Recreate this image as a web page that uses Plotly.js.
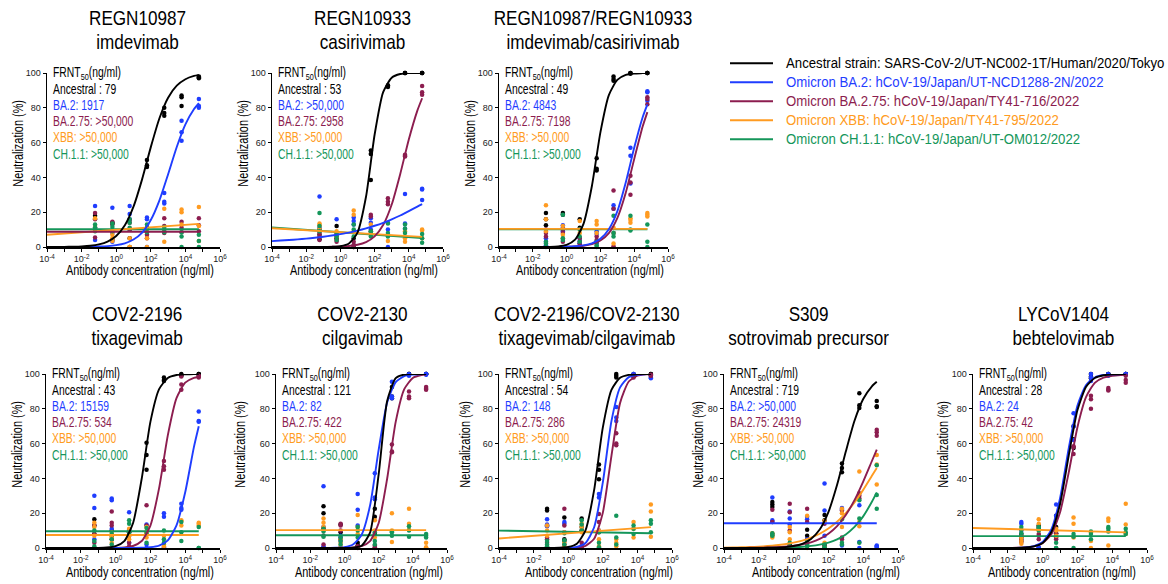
<!DOCTYPE html>
<html><head><meta charset="utf-8">
<script src="https://cdn.plot.ly/plotly-3.0.1.min.js"></script>
<style>html,body{margin:0;padding:0;background:#fff}#chart{width:1168px;height:584px}</style>
</head><body><div id="chart"></div>
<script>
// ---------------- data ----------------
const strains = ['Ancestral','BA.2','BA.2.75','XBB','CH.1.1'];
const legendLabels = [
  'Ancestral strain: SARS-CoV-2/UT-NC002-1T/Human/2020/Tokyo',
  'Omicron BA.2: hCoV-19/Japan/UT-NCD1288-2N/2022',
  'Omicron BA.2.75: hCoV-19/Japan/TY41-716/2022',
  'Omicron XBB: hCoV-19/Japan/TY41-795/2022',
  'Omicron CH.1.1: hCoV-19/Japan/UT-OM012/2022'
];
const frntHeader = 'FRNT<sub>50</sub>(ng/ml)';
const xAxisTitle = 'Antibody concentration (ng/ml)';
const yAxisTitle = 'Neutralization (%)';
const xTickVals = [1e-4,1e-2,1,100,1e4,1e6];
const xTickText = ['10<sup>-4</sup>','10<sup>-2</sup>','10<sup>0</sup>','10<sup>2</sup>','10<sup>4</sup>','10<sup>6</sup>'];
const xMinorTickVals = [1e-3,1e-1,10,1e3,1e5];
const yTickVals = [0,20,40,60,80,100];
// antibody concentrations of the dots (ng/ml), 3 replicates each
const concentrations = [0.06,0.6,6,60,600,6000,60000];
// log10 concentrations where the fitted curves were read
const fitGridLog = [-4,-3.5,-3,-2.5,-2,-1.5,-1,-0.5,0,0.5,1,1.5,2,2.5,3,3.5,4,4.5,4.78];

// Panel 1
const p1Title = ['REGN10987','imdevimab'];
const p1Frnt = ['Ancestral : 79','BA.2: 1917','BA.2.75: >50,000','XBB: >50,000','CH.1.1: >50,000'];
const p1Points = [
  [18,11,10, 14,13.5,4, 10,5,0, 50,47,46, 80,77,75.5, 87,86,81, 98,97.5,97],
  [23.5,11,4, 22.5,8,3, 23.5,19,16, 17,16,0, 31,26,25, 72.5,66,61, 85,81,80],
  [19.5,16,5.5, 14.5,13,9, 15.5,14,10, 11,7,5, 16.5,12,8, 14.5,11,8.5, 16.5,12.5,9],
  [16.5,12,10, 7,5,3.5, 5,0,0, 9,5,0, 22,9,3, 21.5,20,13, 23,12,3.5],
  [13,11,9, 13.5,11.5,9, 16,14,11, 13,11,8.5, 11.5,10,8.5, 8.5,6,0, 7,3.5,0]
];
const p1Fits = [
  [0.02,0.04,0.08,0.16,0.34,0.71,1.5,3.1,6.3,12.5,23.2,39,57.4,74,85.8,92.7,96.4,98.3,98.9],
  [0,0.01,0.015,0.03,0.06,0.13,0.26,0.53,1.07,2.1,4.3,8.3,15.5,26.8,41.8,57.5,70.5,79.3,82.7],
  [8.8,8.8],
  [7,13.3],
  [10.2,10.2]
];
// Panel 2
const p2Title = ['REGN10933','casirivimab'];
const p2Frnt = ['Ancestral : 53','BA.2: >50,000','BA.2.75: 2958','XBB: >50,000','CH.1.1: >50,000'];
const p2Points = [
  [10,7,4.5, 12,8,5, 5,1,0, 55.5,53.5,38.5, 93,92.5,92, 100,100,100, 100,100,100],
  [29,11,9, 16,8,6, 17,15,13, 16.5,14,10, 14,10,0, 30.5,13.5,10.5, 33.5,33,27],
  [8,6,4, 5,4,3, 3,1,0, 18.5,17.5,9, 28,26,24.5, 53,52.5,52, 92.5,89,87.5],
  [13.5,12.5,10.5, 9,8,6, 21,18.5,9, 13,8,7, 7,6.5,3.5, 9,5,3, 10,9.5,5],
  [19.5,12,9, 7,6,4, 13,10,6, 9,8,6, 13.5,8,6, 13,10.5,8, 7.5,5,2.5]
];
const p2Fits = [
  [0,0,0,0,0,0,0,0.1,0.45,2.0,8.3,29,64.5,89,97.3,99.4,99.9,100,100],
  [3.4,3.7,4.0,4.4,4.8,5.3,5.9,6.6,7.4,8.3,9.4,10.7,12.2,13.9,15.9,18.1,20.6,23.2,24.6],
  [0,0,0,0,0,0,0.02,0.11,0.26,0.57,1.27,2.8,6.1,12.6,24.4,42,61.8,78.4,85.5],
  [10.8,5.8],
  [11.2,5.2]
];
// Panel 3
const p3Title = ['REGN10987/REGN10933','imdevimab/casirivimab'];
const p3Frnt = ['Ancestral : 49','BA.2: 4843','BA.2.75: 7198','XBB: >50,000','CH.1.1: >50,000'];
const p3Points = [
  [19.5,16,12.5, 19.5,18.5,10, 16,11,2, 51,45,44, 98,96.5,95.5, 100,100,99.5, 100,100,100],
  [5,3,1, 12.5,11,9, 5,3.5,2, 9,7.5,2, 24,22,8, 57,52.5,36.5, 89.5,89,84],
  [10,8,6, 10,8,3, 5,3,1, 6,4,3, 32.5,22,0.5, 41,37,30, 86,85,82],
  [24,16,9, 12,7,5, 15,10,8, 15,13,8, 11,8,2, 16.5,15.5,14, 19.5,18.5,17.5],
  [3,2,0, 18.5,5,4, 10,6,3, 3,1,0, 18,8,6, 18,10,9.5, 13,3,0]
];
const p3Fits = [
  [0,0,0,0,0.01,0.03,0.1,0.34,1.2,4.2,13.3,35.2,65.9,87.3,96,98.9,99.7,99.9,100],
  [0,0,0,0,0,0.01,0.03,0.08,0.18,0.41,0.93,2.1,4.7,10.2,20.5,37.1,57,74.6,82],
  [0,0,0,0,0,0.01,0.03,0.06,0.14,0.32,0.72,1.64,3.7,8.0,16.6,31.2,50.5,69.2,77.5],
  [10.4,10.4],
  [10.2,10.2]
];
// Panel 4
const p4Title = ['COV2-2196','tixagevimab'];
const p4Frnt = ['Ancestral : 43','BA.2: 15159','BA.2.75: 534','XBB: >50,000','CH.1.1: >50,000'];
const p4Points = [
  [16.5,13,8, 10,7,5, 10.5,9,7, 60.5,53.5,45, 98,96.5,96, 100,99.5,99, 100,100,99.5],
  [30,23,5, 28.5,27.5,11, 20.5,10,3, 13.5,2,0, 20,18,0.5, 25.5,23,22, 78.5,73,72.5],
  [13,8,3, 21,14.5,13, 9,3,1, 24.5,13,9, 50,47,45, 98.5,94,91, 99,98.5,98],
  [14.5,12,7, 9,6,3, 11,7,5, 12,9,6, 7,2,1, 16,15.5,13, 14.5,14,13],
  [10,4,1, 8,5,2, 16,14,8, 11.5,8,3, 10,5,3, 15,9,4, 12,0,0]
];
const p4Fits = [
  [0,0,0,0,0.01,0.02,0.07,0.26,1.04,4,14.2,39.8,72.5,91.3,97.7,99.4,99.8,100,100],
  [0,0,0,0,0,0,0,0,0,0.01,0.04,0.13,0.43,1.4,4.4,13,32,58,70],
  [0,0,0,0,0,0,0.01,0.03,0.09,0.33,1.16,4.0,12.9,34.4,64.7,86.1,95,97.8,98.3],
  [7.5,7.5],
  [9.6,9.6]
];
// Panel 5
const p5Title = ['COV2-2130','cilgavimab'];
const p5Frnt = ['Ancestral : 121','BA.2: 82','BA.2.75: 422','XBB: >50,000','CH.1.1: >50,000'];
const p5Points = [
  [24,20,11, 13.5,9,5, 3,1.5,1, 22.5,18,8, 92.5,87,86, 100,100,100, 100,100,100],
  [35.5,12,1, 7,6,4, 31,22,13, 43,29,28, 95.5,87,86, 100,99.5,99, 100,100,99.5],
  [11.5,7,2, 14,13,10, 1,0.5,0, 1.5,0.5,0, 59.5,55.5,55, 90,87,86, 92.5,91.5,91],
  [17,14.5,12, 5,3,1, 19,12,8, 16,10,6, 20,10,3.5, 22.5,14,10.5, 3,0.5,0],
  [11,9.5,6.5, 6,4,2, 12,10,6, 9,4,2, 9.5,9,7, 12.5,10,6.5, 8,7,6]
];
const p5Fits = [
  [0,0,0,0,0,0,0,0,0.02,0.17,1.27,8.8,42,84.5,97.6,99.7,100,100,100],
  [0,0,0,0,0,0.01,0.03,0.13,0.51,2.0,7.5,24.4,56.2,83.6,95.3,98.8,99.7,99.9,100],
  [0,0,0,0,0,0,0,0.02,0.07,0.26,1.04,4.0,14.2,39.8,72.5,91.3,97.7,99.4,99.7],
  [10.3,10.3],
  [7.3,7.3]
];
// Panel 6
const p6Title = ['COV2-2196/COV2-2130','tixagevimab/cilgavimab'];
const p6Frnt = ['Ancestral : 54','BA.2: 148','BA.2.75: 286','XBB: >50,000','CH.1.1: >50,000'];
const p6Points = [
  [22.5,21.5,13, 17.5,5,4, 17,12,10, 48,45,39.5, 100,99,98, 100,99.5,99, 100,100,99.5],
  [16.5,13.5,12.5, 15,14,9, 1,0.5,0, 31,29,10, 81,75,73, 100,99.5,99, 99,98,97.5],
  [6,5,3, 22.5,13,2, 3,1,0, 19.5,15,9, 66,60,59, 99,98.5,98, 99.5,99,99],
  [13,10,7, 9,3,1, 14,12,9, 10,5,1, 5,3,1, 15,11,6, 25,21,6.5],
  [4,2,1, 8.5,4.5,2, 16,13.5,10, 9,3,0.5, 18.5,6,2, 13,11,8, 16,14,9]
];
const p6Fits = [
  [0,0,0,0,0,0,0.03,0.13,0.56,2.45,10.1,33.4,69.2,90.9,97.8,99.5,99.9,100,100],
  [0,0,0,0,0,0,0,0.03,0.15,0.67,2.9,11.9,37.6,72.9,92.3,98.2,99.6,99.9,100],
  [0,0,0,0,0,0,0,0.01,0.06,0.28,1.25,5.3,20.2,53,83.4,95.7,99,99.8,99.9],
  [5.5,12],
  [10,8.5]
];
// Panel 7
const p7Title = ['S309','sotrovimab precursor'];
const p7Frnt = ['Ancestral : 719','BA.2: >50,000','BA.2.75: 24319','XBB: >50,000','CH.1.1: >50,000'];
const p7Points = [
  [26.5,25,23.5, 2,1,0.5, 10.5,7,5, 19,16,1.5, 48.5,46,43.5, 89,82,80.5, 84.5,81.5,81],
  [29,16,15, 21,17,13.5, 18,16.5,5, 37,21.5,7, 23,22,1.5, 24.5,3.5,0, 1.5,1,0.5],
  [22,15,8, 25.5,20.5,10, 22.5,15,4, 14,2,1, 21.5,6,5, 31.5,30,28.5, 68,66.5,64.5],
  [7,6,8.5, 12,9,5, 18.5,3,0, 15.5,3,0.5, 22.5,20,12, 44,15,12.5, 53.5,48,36.5],
  [8.5,7.5,7, 3,1,0.5, 4,2,1, 2,0.5,0, 16.5,3,2, 27.5,17,3, 47.5,30.5,22.5]
];
const p7Fits = [
  [0,0,0.01,0.02,0.05,0.11,0.24,0.52,1.12,2.4,5.2,10.6,20.6,36.3,55.4,73.1,85.6,92.9,95.5],
  [14.2,14.2],
  [0.03,0.04,0.07,0.11,0.19,0.3,0.49,0.79,1.27,2.05,3.28,5.2,8.2,12.6,19,27.5,38.2,50,56.5],
  [0.2,0.28,0.4,0.56,0.79,1.11,1.56,2.19,3.07,4.27,5.93,8.2,11.2,15.1,20.1,26.2,33.4,41.5,46],
  [0.01,0.02,0.03,0.05,0.07,0.11,0.18,0.29,0.47,0.75,1.21,1.96,3.1,5.0,7.8,12.1,18.2,26.6,32]
];
// Panel 8
const p8Title = ['LYCoV1404','bebtelovimab'];
const p8Frnt = ['Ancestral : 28','BA.2: 24','BA.2.75: 42','XBB: >50,000','CH.1.1: >50,000'];
const p8Points = [
  [8,6,4, 13,12,11, 18.5,12,8.5, 70,62.5,57.5, 100,98.5,97.5, 100,100,99.5, 100,100,100],
  [15,14,10, 0.5,0,0, 25,18.5,10, 77.5,70,62, 100,98,96, 100,99.5,99, 100,100,99.5],
  [7,5,3.5, 8,7,5, 8,6,5, 58.5,58,54, 87.5,85.5,80, 92,91,90.5, 99,96.5,95],
  [6,4,2.5, 16.5,14,10, 11,10,7, 17.5,14,6, 9,4,0, 17,15.5,1.5, 25.5,13.5,8],
  [12,10.5,8.5, 12,11.5,10, 3,0,0, 8,6.5,0, 9.5,8,5, 12,11,9.5, 11,9,8]
];
const p8Fits = [
  [0,0,0,0,0.02,0.08,0.27,0.89,2.9,9.1,25.2,53,79.1,92.7,97.7,99.3,99.8,99.9,100],
  [0,0,0,0,0.03,0.1,0.32,1.05,3.4,10.6,28.5,57.2,81.8,93.7,98,99.4,99.8,99.9,100],
  [0,0,0,0.01,0.04,0.11,0.32,0.96,2.8,7.9,20.4,43.3,69.3,86.8,94.9,97.9,99,99.4,99.5],
  [11.5,9],
  [6.8,6.8]
];

// ---------------- styling / layout ----------------
const W = 1168, H = 584;
const FONT = '"Liberation Sans",Arial,sans-serif';
const colors = ['#000000','#1f3dff','#8c1d4f','#ff9b21','#14965a'];
const panels = [
  {title:p1Title,frnt:p1Frnt,pts:p1Points,fits:p1Fits},
  {title:p2Title,frnt:p2Frnt,pts:p2Points,fits:p2Fits},
  {title:p3Title,frnt:p3Frnt,pts:p3Points,fits:p3Fits},
  {title:p4Title,frnt:p4Frnt,pts:p4Points,fits:p4Fits},
  {title:p5Title,frnt:p5Frnt,pts:p5Points,fits:p5Fits},
  {title:p6Title,frnt:p6Frnt,pts:p6Points,fits:p6Fits},
  {title:p7Title,frnt:p7Frnt,pts:p7Points,fits:p7Fits},
  {title:p8Title,frnt:p8Frnt,pts:p8Points,fits:p8Fits}
];
// plot boxes in pixels [left, top, right, bottom]
const boxes = [[47,73,220,247],[272,73,443,247],[499,73,668,247],
               [46,374,220,548],[276,374,447,548],[499,374,672,548],[724,374,898,548],[973,374,1147,548]];
const titleX = [137,362,593,137,362,587,808,1063];
const yTitleX = [18,243,470,17,240,465,698,943];
const xTitleX = [140,364,590,140,369,599,826,1062];
// horizontal condensing of the narrow typeface used in the figure
const SX_TITLE = 0.815, SX_FRNT = 0.74, SX_AXIS = 0.78, SX_LEGEND = 0.91;
const TITLE_SIZE = 21, TITLE_LINE_EM = 1.12;   // two-line panel titles, tight line spacing

const px = x => x / W, py = y => 1 - y / H;
const traces = [], annotations = [], annScale = [], annIsTitle = [];
const shapes = [];
const layout = {width:W,height:H,margin:{l:0,r:0,t:0,b:0},paper_bgcolor:'#fff',plot_bgcolor:'rgba(0,0,0,0)',
  showlegend:false,annotations,shapes,font:{family:FONT,color:'#000'}};
const concRep = concentrations.flatMap(c => [c,c,c]);
const fitX = fitGridLog.map(v => Math.pow(10, v));
const fitEnds = [fitX[0], fitX[fitX.length-1]];
const drawOrder = [4,3,2,1,0];

function ann(text, x, y, size, color, sx, opts, isTitle) {
  annotations.push(Object.assign({text, x:px(x), y:py(y), xref:'paper', yref:'paper', showarrow:false,
    xanchor:'center', yanchor:'middle', borderpad:0, font:{family:FONT,size:size,color:color}}, opts || {}));
  annScale.push(sx);
  annIsTitle.push(!!isTitle);
}

panels.forEach((p, i) => {
  const n = i + 1, sfx = n > 1 ? n : '';
  const xa = 'x' + sfx, ya = 'y' + sfx;
  const [l,t,r,b] = boxes[i];
  layout['xaxis'+sfx] = {domain:[px(l),px(r)],anchor:ya,type:'log',range:[-4,6],tickmode:'array',
    tickvals:xTickVals,ticktext:xTickText,ticks:'outside',ticklen:3,tickwidth:1,tickcolor:'#000',
    minor:{tickmode:'array',tickvals:xMinorTickVals,ticks:'outside',ticklen:3,tickwidth:1,tickcolor:'#000',showgrid:false},
    showline:true,linecolor:'#000',linewidth:1.5,showgrid:false,zeroline:false,fixedrange:true,
    tickfont:{family:FONT,size:9,color:'#222'}};
  layout['yaxis'+sfx] = {domain:[py(b),py(t)],anchor:xa,range:[0,100],tickmode:'array',
    tickvals:yTickVals,ticktext:yTickVals.map(String),ticks:'outside',ticklen:3,tickwidth:1,tickcolor:'#000',
    showline:true,linecolor:'#000',linewidth:1.5,showgrid:false,zeroline:false,fixedrange:true,
    tickfont:{family:FONT,size:9,color:'#222'}};
  for (let s = 0; s < 5; s++) {
    traces.push({type:'scatter',mode:'markers',x:concRep,y:p.pts[s],xaxis:xa,yaxis:ya,cliponaxis:false,
      marker:{size:4.5,color:colors[s]},hoverinfo:'skip',name:strains[s]});
  }
  drawOrder.forEach(s => {
    const y = p.fits[s];
    traces.push({type:'scatter',mode:'lines',x:y.length === 2 ? fitEnds : fitX,y,xaxis:xa,yaxis:ya,
      line:{color:colors[s],width:1.9,shape:'spline',smoothing:0.6},hoverinfo:'skip',name:strains[s]});
  });
  const rowTop = t < 200;
  // two-line title (line spacing tightened after rendering)
  ann(p.title.join('<br>'), titleX[i], rowTop ? 31.2 : 327.2, TITLE_SIZE, '#000', SX_TITLE, null, true);
  // FRNT50 block
  const lines = [frntHeader].concat(p.frnt);
  const lineColors = ['#000'].concat(colors);
  lines.forEach((txt, k) => {
    ann(txt, l + 5, t - 0.5 + 16.2 * k, 14, lineColors[k], SX_FRNT, {xanchor:'left'});
  });
  // axis titles
  ann(yAxisTitle, yTitleX[i], (t + b) / 2 - 16, 14, '#000', SX_AXIS, {textangle:-90});
  ann(xAxisTitle, xTitleX[i], b + (rowTop ? 23.5 : 24), 14, '#000', SX_AXIS);
});

// legend (top right)
legendLabels.forEach((lab, k) => {
  const y = 63.3 + 19 * k;
  shapes.push({type:'line',xref:'paper',yref:'paper',x0:px(730),x1:px(773),y0:py(y),y1:py(y),
    line:{color:colors[k],width:2}});
  ann(lab, 785, y, 14.5, colors[k], SX_LEGEND, {xanchor:'left'});
});

Plotly.newPlot('chart', traces, layout, {staticPlot:true, displayModeBar:false}).then(gd => {
  gd.querySelectorAll('g.annotation').forEach(g => {
    const idx = +g.getAttribute('data-index');
    const t = g.querySelector('text.annotation-text');
    if (!t) return;
    if (annIsTitle[idx]) {
      t.querySelectorAll('tspan.line').forEach((ts, k) => { if (k > 0) ts.setAttribute('dy', TITLE_LINE_EM + 'em'); });
    }
    const sx = annScale[idx];
    if (!sx || sx === 1) return;
    const bb = t.getBBox();
    const cx = annotations[idx].xanchor === 'left' ? bb.x : bb.x + bb.width / 2;
    t.setAttribute('transform', 'translate(' + cx + ',0) scale(' + sx + ',1) translate(' + (-cx) + ',0)');
  });
});
</script></body></html>
